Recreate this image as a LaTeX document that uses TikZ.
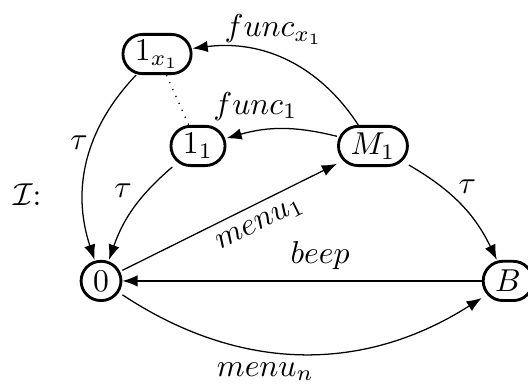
\documentclass[tikz,border=0pt]{standalone}
\usepackage{amsmath,amssymb}
\usepackage{tikz}
\usetikzlibrary{arrows.meta,positioning}

\begin{document}
\begin{tikzpicture}[
  on grid,
  state/.style={draw,line width=0.9pt,rounded corners=6.2pt,minimum height=12.4pt,minimum width=12.4pt,inner xsep=3.8pt,inner ysep=1pt},
  trans/.style={-Latex}
]
  \useasboundingbox (-1.122,-1.155) rectangle (4.742,3.120);

  \node[state] (zero) at (0,0) {$0$};
  \node[state,right=4.52cm of zero] (beepst) {$B$};
  \node[state,above right=1.499cm and 1.077cm of zero] (one) {$1_1$};
  \node[state,right=1.943cm of one] (menu) {$M_1$};
  \node[state,above right=2.52cm and 0.622cm of zero] (onex) {$1_{x_1}$};
  \node (lts) at (-0.82,0.955) {$\mathcal{I}$:};

  \draw[trans] (beepst) -- node[above,pos=0.45] {$beep$} (zero);
  \draw[trans] (zero) to[bend right=33] node[below,pos=0.4] {$menu_n$} (beepst);
  \draw[trans] (zero) -- node[below,sloped,pos=0.6] {$menu_1$} (menu);
  \draw[trans] (menu) to[bend right=15] node[above,pos=0.75] {$func_1$} (one);
  \draw[trans] (menu) to[bend right=32] node[above,pos=0.58] {$func_{x_1}$} (onex);
  \draw[trans] (menu) to[bend left=17] node[above,xshift=2pt] {$\tau$} (beepst);
  \draw[trans] (onex) to[bend right=31] node[left,pos=0.4,xshift=2pt] {$\tau$} (zero);
  \draw[trans] (one) to[bend right=15] node[above left,xshift=3pt] {$\tau$} (zero);
  \draw[dotted] (onex) -- (one);
\end{tikzpicture}
\end{document}
